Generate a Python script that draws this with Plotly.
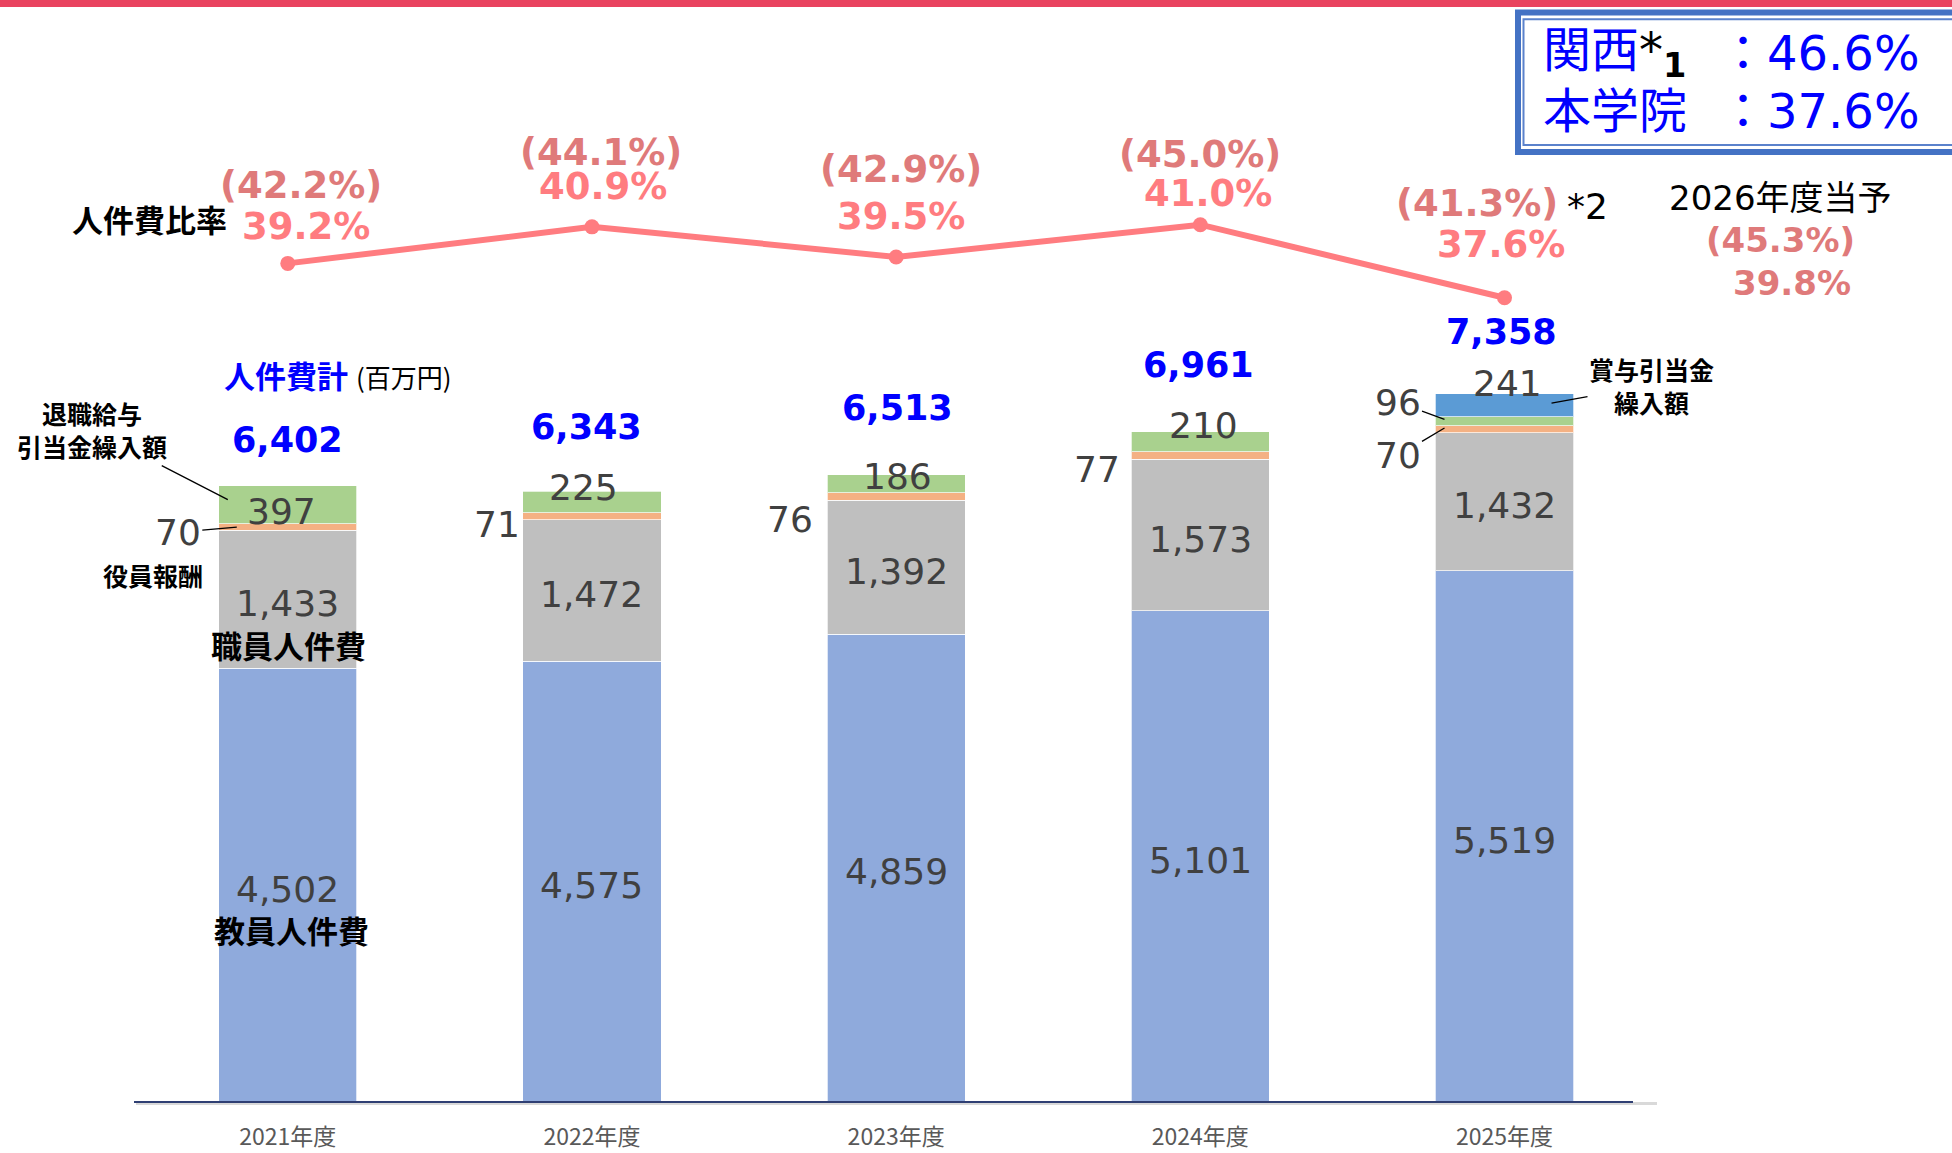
import plotly.graph_objects as go

# ---- data (百万円) ----
years = ["2021年度", "2022年度", "2023年度", "2024年度", "2025年度"]
faculty = [4502, 4575, 4859, 5101, 5519]      # 教員人件費
staff = [1433, 1472, 1392, 1573, 1432]        # 職員人件費
officers = [70, 71, 76, 77, 70]               # 役員報酬
retirement = [397, 225, 186, 210, 96]         # 退職給与引当金繰入額
bonus = [None, None, None, None, 241]         # 賞与引当金繰入額
totals = [6402, 6343, 6513, 6961, 7358]       # 人件費計
ratio = [39.2, 40.9, 39.5, 41.0, 37.6]        # 人件費比率
ratio_paren = [42.2, 44.1, 42.9, 45.0, 41.3]  # (括弧内の比率)
forecast_label = "2026年度当予"
forecast_paren = 45.3
forecast_ratio = 39.8
kansai_ratio = 46.6
school_ratio = 37.6

# ---- canvas helpers (pixel -> paper) ----
W, H = 1952, 1153


def px(x):
    return x / W


def py(y):
    return 1 - y / H


JP = "Noto Sans CJK JP"
NUM = "DejaVu Sans, Noto Sans CJK JP"
PINK = "#FF7C80"
PINK_DARK = "#DF7A7A"
VALUE_GREY = "#404040"

fig = go.Figure()

bar_line = dict(color="rgba(255,255,255,0.7)", width=1)
fig.add_trace(go.Bar(x=years, y=faculty, marker=dict(color="#8FAADC", line=bar_line)))
fig.add_trace(go.Bar(x=years, y=staff, marker=dict(color="#BFBFBF", line=bar_line)))
fig.add_trace(go.Bar(x=years, y=officers, marker=dict(color="#F4B183", line=bar_line)))
fig.add_trace(go.Bar(x=years, y=retirement, marker=dict(color="#A9D18E", line=bar_line)))
fig.add_trace(go.Bar(x=years, y=bonus, marker=dict(color="#5B9BD5", line=bar_line)))

fig.add_trace(go.Scatter(
    x=years, y=ratio, yaxis="y2", mode="lines+markers",
    line=dict(color=PINK, width=6), marker=dict(color=PINK, size=15),
))

ann = []


def paper_text(x, y, text, size, color="black", family=JP, xanchor="center"):
    return dict(x=px(x), y=py(y), xref="paper", yref="paper", text=text,
                showarrow=False, xanchor=xanchor, yanchor="middle",
                font=dict(family=family, size=size, color=color))


# values inside the two big segments
for i in range(5):
    ann.append(dict(x=i, y=faculty[i] / 2, xref="x", yref="y", text=f"{faculty[i]:,}",
                    showarrow=False, yshift=-4, font=dict(family=NUM, size=36, color=VALUE_GREY)))
    ann.append(dict(x=i, y=faculty[i] + staff[i] / 2, xref="x", yref="y", text=f"{staff[i]:,}",
                    showarrow=False, yshift=-4, font=dict(family=NUM, size=36, color=VALUE_GREY)))

# totals above the bars
total_shift = [(0, 46), (-5, 64), (1, 67), (-2, 67), (-3, 62)]
for i, t in enumerate(totals):
    ann.append(dict(x=i, y=t, xref="x", yref="y", text=f"<b>{t:,}</b>",
                    showarrow=False, xshift=total_shift[i][0], yshift=total_shift[i][1],
                    font=dict(family=NUM, size=35, color="#0000FF")))

# ratio labels around the line
main_shift = [(18, 37), (11, 40), (5, 40), (8, 31), (-4, 53)]
paren_shift = [(13, 78), (9, 74), (5, 87), (0, 70), (-28, 94)]
for i, r in enumerate(ratio):
    ann.append(dict(x=i, y=r, xref="x", yref="y2", text=f"<b>{r:.1f}%</b>",
                    showarrow=False, xshift=main_shift[i][0], yshift=main_shift[i][1],
                    font=dict(family=NUM, size=37, color=PINK)))
    ann.append(dict(x=i, y=r, xref="x", yref="y2", text=f"<b>({ratio_paren[i]:.1f}%)</b>",
                    showarrow=False, xshift=paren_shift[i][0], yshift=paren_shift[i][1],
                    font=dict(family=NUM, size=37, color=PINK_DARK)))
ann.append(dict(x=4, y=ratio[4], xref="x", yref="y2", text="*2", showarrow=False,
                xshift=83, yshift=91, font=dict(family=NUM, size=36, color="black")))

# small segment labels
retire_mid = [faculty[i] + staff[i] + officers[i] + retirement[i] / 2 for i in range(5)]
officer_mid = [faculty[i] + staff[i] + officers[i] / 2 for i in range(5)]
retire_shift = [(-6, -7), (-8, 15), (1, 7), (3, 16)]
for i in range(4):
    ann.append(dict(x=i, y=retire_mid[i], xref="x", yref="y", text=f"{retirement[i]}",
                    showarrow=False, xshift=retire_shift[i][0], yshift=retire_shift[i][1],
                    font=dict(family=NUM, size=36, color=VALUE_GREY)))
officer_shift = {1: (-95, -8), 2: (-106, -23), 3: (-103, -14)}
for i, (dx, dy) in officer_shift.items():
    ann.append(dict(x=i, y=officer_mid[i], xref="x", yref="y", text=f"{officers[i]}",
                    showarrow=False, xshift=dx, yshift=dy,
                    font=dict(family=NUM, size=36, color=VALUE_GREY)))

bonus_mid = totals[4] - bonus[4] / 2
ann.append(dict(x=4, y=bonus_mid, xref="x", yref="y", text=f"{bonus[4]}", showarrow=False,
                xshift=3, yshift=22, font=dict(family=NUM, size=36, color=VALUE_GREY)))

leader = dict(showarrow=True, arrowhead=0, arrowwidth=1.3, arrowcolor="black", standoff=0)
ann.append(dict(x=0, y=officer_mid[0], xref="x", yref="y", text=f"{officers[0]}",
                xshift=-51, yshift=0, ax=-59, ay=5,
                font=dict(family=NUM, size=36, color=VALUE_GREY), **leader))
ann.append(dict(x=4, y=retire_mid[4], xref="x", yref="y", text=f"{retirement[4]}",
                xshift=-60, yshift=2, ax=-47, ay=-17,
                font=dict(family=NUM, size=36, color=VALUE_GREY), **leader))
ann.append(dict(x=4, y=officer_mid[4] + officers[4] / 2, xref="x", yref="y", text=f"{officers[4]}",
                xshift=-60, yshift=-2, ax=-47, ay=28,
                font=dict(family=NUM, size=36, color=VALUE_GREY), **leader))

# category names
ann.append(dict(x=0, y=retire_mid[0], xref="x", yref="y", text="<b>退職給与<br>引当金繰入額</b>",
                xshift=-60, yshift=5, ax=-136, ay=-70,
                font=dict(family=JP, size=25, color="black"), **leader))
ann.append(dict(x=4, y=bonus_mid, xref="x", yref="y", text="<b>賞与引当金<br>繰入額</b>",
                xshift=47, yshift=2, ax=100, ay=-18,
                font=dict(family=JP, size=25, color="black"), **leader))
ann.append(dict(x=0, y=faculty[0] + staff[0] / 2, xref="x", yref="y", text="<b>職員人件費</b>",
                showarrow=False, xshift=1, yshift=-45, font=dict(family=JP, size=31, color="black")))
ann.append(dict(x=0, y=faculty[0] / 2, xref="x", yref="y", text="<b>教員人件費</b>",
                showarrow=False, xshift=4, yshift=-44, font=dict(family=JP, size=31, color="black")))
ann.append(paper_text(153, 575, "<b>役員報酬</b>", 25))
ann.append(paper_text(149, 218, "<b>人件費比率</b>", 31))
ann.append(paper_text(286, 374, "<b>人件費計</b>", 31, color="#0000FF"))
ann.append(paper_text(404, 376, "(百万円)", 26))

# 2026 forecast
ann.append(paper_text(1780, 198, forecast_label, 34, family=NUM))
ann.append(paper_text(1780, 240, f"<b>({forecast_paren:.1f}%)</b>", 34, color=PINK_DARK, family=NUM))
ann.append(paper_text(1792, 283, f"<b>{forecast_ratio:.1f}%</b>", 34, color=PINK_DARK, family=NUM))

# comparison box
ann.append(paper_text(1541, 53, "関西<span style='color:black'>*<sub><b>1</b></sub></span>",
                      48, color="#0000FF", family=NUM, xanchor="left"))
ann.append(paper_text(1717, 53, f"：{kansai_ratio:.1f}%", 48, color="#0000FF", family=NUM, xanchor="left"))
ann.append(paper_text(1541, 111, "本学院", 48, color="#0000FF", family=NUM, xanchor="left"))
ann.append(paper_text(1717, 111, f"：{school_ratio:.1f}%", 48, color="#0000FF", family=NUM, xanchor="left"))

shapes = [
    dict(type="rect", xref="paper", yref="paper", x0=0, x1=1, y0=py(7), y1=1,
         fillcolor="#E9435F", line=dict(width=0)),
    dict(type="rect", xref="paper", yref="paper", x0=px(1518), x1=px(2000), y0=py(152), y1=py(12.5),
         line=dict(color="#4472C4", width=6)),
    dict(type="rect", xref="paper", yref="paper", x0=px(1523.5), x1=px(2000), y0=py(145), y1=py(19.2),
         line=dict(color="#5B82CC", width=2)),
    dict(type="line", xref="paper", yref="paper", x0=px(134), x1=px(1633), y0=py(1102), y1=py(1102),
         line=dict(color="#2F3F73", width=2), layer="above"),
]

fig.update_layout(
    width=W, height=H,
    barmode="stack", bargap=0.546,
    showlegend=False,
    paper_bgcolor="white", plot_bgcolor="white",
    margin=dict(l=0, r=0, t=0, b=0),
    font=dict(family=NUM, color="black"),
    xaxis=dict(domain=[px(135.7), px(1656.6)], range=[-0.5, 4.5], showgrid=False, zeroline=False,
               showline=True, linecolor="#D9D9D9", linewidth=3, ticks="",
               ticklabelstandoff=13, automargin=False,
               tickfont=dict(family=JP, size=23, color="#595959")),
    yaxis=dict(domain=[1 - 1101.7 / H, 1], range=[0, 1101.7 * 10.39], visible=False,
               automargin=False),
    yaxis2=dict(overlaying="y", range=[0.21, 51.45], visible=False, automargin=False),
    annotations=ann,
    shapes=shapes,
)

# drop the default 8px page margin so the figure sits at the window origin
fig.write_html("out.html", config={"displayModeBar": False},
               post_script="document.body.style.margin='0px';")
